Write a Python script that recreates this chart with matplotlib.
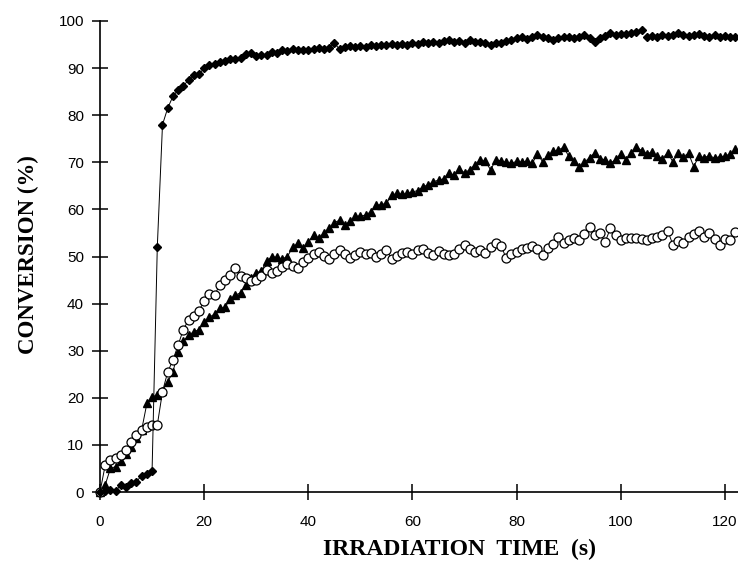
import numpy as np
import matplotlib
matplotlib.use('Agg')
import matplotlib.pyplot as plt

# irradiation time (s), one reading per second
time_s = [
    0, 1, 2, 3, 4, 5, 6, 7, 8, 9, 10, 11, 12, 13, 14, 15, 16, 17, 18, 19,
    20, 21, 22, 23, 24, 25, 26, 27, 28, 29, 30, 31, 32, 33, 34, 35, 36, 37, 38, 39,
    40, 41, 42, 43, 44, 45, 46, 47, 48, 49, 50, 51, 52, 53, 54, 55, 56, 57, 58, 59,
    60, 61, 62, 63, 64, 65, 66, 67, 68, 69, 70, 71, 72, 73, 74, 75, 76, 77, 78, 79,
    80, 81, 82, 83, 84, 85, 86, 87, 88, 89, 90, 91, 92, 93, 94, 95, 96, 97, 98, 99,
    100, 101, 102, 103, 104, 105, 106, 107, 108, 109, 110, 111, 112, 113, 114, 115,
    116, 117, 118, 119, 120, 121, 122,
]

# filled diamonds
conv_diamond = [
    0, 0.3, 0.5, 0.2, 1.5, 1.0, 2.0, 2.2, 3.5, 3.8, 4.5, 52, 78, 81.5, 84, 85.4, 86.2, 87.5, 88.5, 88.7,
    90, 90.6, 90.8, 91.2, 91.5, 91.9, 92.0, 92.1, 93.0, 93.2, 92.5, 92.8, 92.8, 93.5, 93.3, 93.8, 93.6, 94.0, 93.8, 93.9,
    93.8, 94.0, 94.2, 94.1, 94.3, 95.3, 94.0, 94.4, 94.6, 94.4, 94.7, 94.5, 94.9, 94.6, 95.0, 94.8, 95.1, 94.9, 95.2, 95.0,
    95.3, 95.2, 95.5, 95.3, 95.6, 95.4, 95.8, 96.0, 95.6, 95.7, 95.4, 95.9, 95.6, 95.6, 95.3, 94.9, 95.4, 95.3, 95.8, 96.0,
    96.3, 96.5, 96.2, 96.6, 97.0, 96.5, 96.3, 95.9, 96.4, 96.5, 96.7, 96.3, 96.6, 97.0, 96.4, 95.6, 96.4, 96.9, 97.4, 97.1,
    97.3, 97.2, 97.5, 97.6, 98.1, 96.7, 96.8, 96.6, 97.0, 96.8, 97.1, 97.5, 97.0, 96.8, 97.0, 97.2,
    96.9, 96.7, 97.0, 96.6, 96.9, 96.7, 96.5,
]

# filled triangles
conv_triangle = [
    0, 1.5, 5, 5.4, 6.5, 8, 9.6, 11.4, 13.2, 18.8, 20.2, 20.6, 21.5, 23.4, 25.5, 29.8, 32, 33.3, 34, 34.5,
    36, 37.1, 37.8, 39, 39.2, 41, 41.8, 42.3, 44, 45.5, 46.5, 47, 49, 50, 49.8, 49.5, 50, 52, 52.8, 51.8,
    53, 54.6, 53.9, 55, 56, 57.2, 57.7, 56.7, 57.5, 58.5, 58.6, 58.8, 59.5, 60.9, 61, 61.3, 63, 63.4, 63.2, 63.4,
    63.7, 64, 64.8, 65.2, 65.9, 66.2, 66.5, 67.8, 67.2, 68.5, 67.8, 68.4, 69.5, 70.5, 70.2, 68.4, 70.5, 70.3, 70.0, 69.8,
    70.2, 70.0, 70.3, 69.8, 71.8, 70.1, 71.5, 72.3, 72.6, 73.2, 71.3, 70.2, 69.1, 70.0, 71.0, 72.0, 70.8, 70.5, 69.8, 70.6,
    71.8, 70.4, 72.0, 73.2, 72.5, 71.8, 72.2, 71.3, 70.8, 72.0, 70.1, 71.9, 71.2, 71.9, 69.1, 71.3,
    71.0, 71.4, 70.9, 71.2, 71.3, 71.8, 72.8,
]

# open circles
conv_circle = [
    0, 5.7, 6.8, 7.2, 7.9, 8.9, 10.7, 12.1, 13.2, 13.9, 14.2, 14.2, 21.3, 25.5, 28, 31.2, 34.5, 36.5, 37.3, 38.5,
    40.5, 42, 41.8, 44, 45, 46, 47.5, 45.8, 45.5, 44.7, 45, 45.8, 47.1, 46.5, 47, 47.8, 48.5, 48, 47.5, 48.8,
    49.6, 50.5, 51, 50.2, 49.5, 50.5, 51.4, 50.5, 49.6, 50.3, 51, 50.6, 50.8, 50, 50.5, 51.4, 49.5, 50.2, 50.7, 51,
    50.5, 51.4, 51.6, 50.8, 50.4, 51.2, 50.6, 50.3, 50.5, 51.5, 52.4, 51.6, 51, 51.4, 50.8, 52, 52.8, 52.3, 49.6, 50.5,
    51, 51.5, 51.8, 52.3, 51.5, 50.3, 51.8, 52.7, 54.2, 52.9, 53.5, 53.9, 53.4, 54.8, 56.3, 54.6, 54.9, 53.1, 56, 54.5,
    53.4, 54, 53.9, 53.9, 53.7, 53.6, 54, 54.2, 54.6, 55.5, 52.5, 53.2, 52.8, 54.2, 54.8, 55.5,
    54.2, 54.9, 53.8, 52.5, 53.8, 53.4, 55.2,
]

# the diamond trace has a small break in its line after 104 s
diamond_break = 105

x_ticks = [0, 20, 40, 60, 80, 100, 120]
y_ticks = [0, 10, 20, 30, 40, 50, 60, 70, 80, 90, 100]

fig = plt.figure(figsize=(7.38, 5.75), dpi=100)
ax = fig.add_axes([100 / 738, 83 / 575, 638 / 738, 471 / 575])

ax.plot(time_s, conv_triangle, color='black', lw=0.7, marker='^', ms=6,
        mfc='black', mec='black', clip_on=False, zorder=3)
ax.plot(time_s, conv_circle, color='black', lw=0.7, marker='o', ms=6.5,
        mfc='white', mec='black', mew=0.9, clip_on=False, zorder=4)
ax.plot(time_s[:diamond_break], conv_diamond[:diamond_break], color='black', lw=0.7,
        marker='D', ms=3.6, mfc='black', mec='black', clip_on=False, zorder=5)
ax.plot(time_s[diamond_break:], conv_diamond[diamond_break:], color='black', lw=0.7,
        marker='D', ms=3.6, mfc='black', mec='black', clip_on=False, zorder=5)

ax.set_xlim(0, 122.5)
ax.set_ylim(0, 100)
ax.set_xticks(x_ticks)
ax.set_yticks(y_ticks)

ax.spines['top'].set_visible(False)
ax.spines['right'].set_visible(False)
ax.spines['left'].set_linewidth(1.2)
ax.spines['bottom'].set_linewidth(1.2)
ax.tick_params(direction='inout', length=11, width=1.1, labelsize=11)
ax.tick_params(axis='x', pad=11)
ax.tick_params(axis='y', pad=6)
for lab in ax.get_xticklabels() + ax.get_yticklabels():
    lab.set_fontfamily('Liberation Sans')

fig.text(460 / 738, 1 - 549 / 575, 'IRRADIATION  TIME  (s)', family='Liberation Serif',
         weight='bold', fontsize=17, ha='center', va='center')
fig.text(28 / 738, 1 - 255 / 575, 'CONVERSION (%)', family='Liberation Serif',
         weight='bold', fontsize=16.5, ha='center', va='center', rotation=90)

fig.savefig('out.png', dpi=100)
